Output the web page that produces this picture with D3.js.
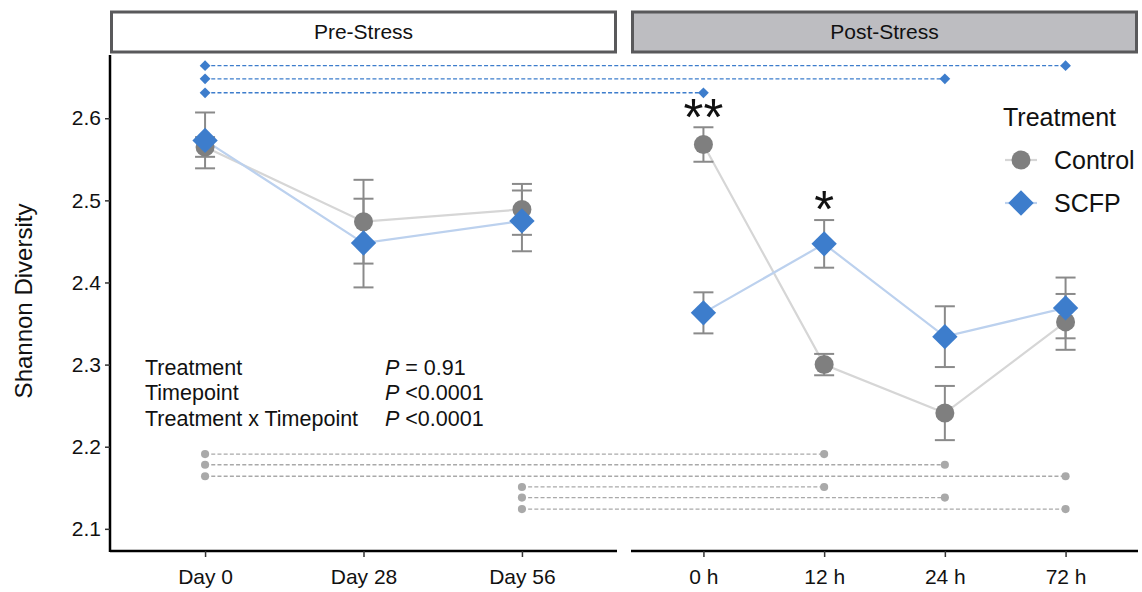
<!DOCTYPE html>
<html>
<head>
<meta charset="utf-8">
<script src="https://cdn.jsdelivr.net/npm/d3@7"></script>
<style>
  body { margin: 0; background: #fff; }
  svg { font-family: "Liberation Sans", Arial, sans-serif; }
</style>
</head>
<body>
<div id="chart"></div>
<script>
// categories per facet
const preDays = ["Day 0", "Day 28", "Day 56"];
const postTimes = ["0 h", "12 h", "24 h", "72 h"];
const timepoints = preDays.concat(postTimes);

// Shannon diversity means and SE, one per timepoint
const controlMean = [2.565, 2.474, 2.489, 2.568, 2.300, 2.241, 2.352];
const controlSE   = [0.012, 0.051, 0.031, 0.021, 0.013, 0.033, 0.034];
const scfpMean    = [2.573, 2.448, 2.475, 2.363, 2.447, 2.334, 2.369];
const scfpSE      = [0.034, 0.054, 0.037, 0.025, 0.029, 0.037, 0.037];

const yTicks = [2.1, 2.2, 2.3, 2.4, 2.5, 2.6];

// pairwise comparison brackets (from, to, y level)
const scfpBrFrom = ["Day 0", "Day 0", "Day 0"];
const scfpBrTo   = ["72 h", "24 h", "0 h"];
const scfpBrY    = [2.664, 2.648, 2.631];
const ctrlBrFrom = ["Day 0", "Day 0", "Day 0", "Day 56", "Day 56", "Day 56"];
const ctrlBrTo   = ["12 h", "24 h", "72 h", "12 h", "24 h", "72 h"];
const ctrlBrY    = [2.191, 2.178, 2.164, 2.151, 2.138, 2.124];

// significance stars (baseline level)
const starAt = ["0 h", "12 h"];
const starText = ["**", "*"];
const starY = [2.579, 2.468];

const statsLabels = ["Treatment", "Timepoint", "Treatment x Timepoint"];
const statsValues = [" = 0.91", " <0.0001", " <0.0001"];

const W = 1142, H = 592;
const panelTop = 55, panelBottom = 551;
const pre = { x0: 110, x1: 617 };
const post = { x0: 631, x1: 1138 };

const ctrlColor = "#7f7f7f", ctrlLine = "#d6d6d6";
const scfpColor = "#3d7dcc", scfpLine = "#bcd1ee";
const errColor = "#8a8a8a";

const svg = d3.select("#chart").append("svg")
  .attr("width", W).attr("height", H);

const xPre = d3.scalePoint().domain(preDays).range([pre.x0, pre.x1]).padding(0.6);
const xPost = d3.scalePoint().domain(postTimes).range([post.x0, post.x1]).padding(0.6);
const xPos = t => preDays.includes(t) ? xPre(t) : xPost(t);

const y = d3.scaleLinear().domain([2.073, 2.677]).range([panelBottom, panelTop]);

// facet strips
const strips = [
  { name: "Pre-Stress", p: pre, fill: "#ffffff" },
  { name: "Post-Stress", p: post, fill: "#bdbdc1" }
];
strips.forEach(s => {
  svg.append("rect")
    .attr("x", s.p.x0 + 1.5).attr("y", 12)
    .attr("width", s.p.x1 - s.p.x0 - 3).attr("height", 40)
    .attr("fill", s.fill).attr("stroke", "#59595b").attr("stroke-width", 3);
  svg.append("text")
    .attr("x", (s.p.x0 + s.p.x1) / 2).attr("y", 32)
    .attr("dy", "0.35em").attr("text-anchor", "middle")
    .attr("font-size", 21).attr("fill", "#111")
    .text(s.name);
});

// axes
const yAxis = svg.append("g")
  .attr("transform", `translate(${pre.x0},0)`)
  .call(d3.axisLeft(y).tickValues(yTicks).tickFormat(d3.format(".1f")).tickSize(5).tickPadding(4));
yAxis.select(".domain").attr("d", `M0,${panelTop}V${panelBottom + 1}`).attr("stroke-width", 2.5);

[[xPre, pre], [xPost, post]].forEach(([sc, p]) => {
  const g = svg.append("g")
    .attr("transform", `translate(0,${panelBottom})`)
    .call(d3.axisBottom(sc).tickSize(6).tickPadding(12));
  g.select(".domain").attr("d", `M${p.x0},0H${p.x1}`).attr("stroke-width", 2.5);
});
svg.selectAll(".tick text").attr("font-size", 21).attr("fill", "#111");
svg.selectAll(".tick line").attr("stroke", "#333").attr("stroke-width", 1.5);

svg.append("text")
  .attr("transform", `translate(24,${(panelTop + panelBottom) / 2 - 2}) rotate(-90)`)
  .attr("text-anchor", "middle").attr("dy", "0.35em")
  .attr("font-size", 24).attr("fill", "#111")
  .text("Shannon Diversity");

// comparison brackets
function brackets(from, to, lv, color, shape, size) {
  const g = svg.append("g");
  from.forEach((f, i) => {
    const yy = y(lv[i]);
    g.append("line")
      .attr("x1", xPos(f)).attr("x2", xPos(to[i]))
      .attr("y1", yy).attr("y2", yy)
      .attr("stroke", color).attr("stroke-width", 1.3)
      .attr("stroke-dasharray", "4,2.2");
    [f, to[i]].forEach(t => {
      g.append("path")
        .attr("transform", `translate(${xPos(t)},${yy})`)
        .attr("d", d3.symbol().type(shape).size(size)())
        .attr("fill", color);
    });
  });
}
brackets(scfpBrFrom, scfpBrTo, scfpBrY, scfpColor, d3.symbolDiamond2, 74);
brackets(ctrlBrFrom, ctrlBrTo, ctrlBrY, "#a9a9a9", d3.symbolCircle, 52);

// series
const series = [
  { name: "Control", mean: controlMean, se: controlSE, color: ctrlColor, line: ctrlLine },
  { name: "SCFP", mean: scfpMean, se: scfpSE, color: scfpColor, line: scfpLine }
];
const rows = s => timepoints.map((t, i) => ({ t, m: s.mean[i], e: s.se[i] }));

const line = d3.line().x(d => xPos(d.t)).y(d => y(d.m));
series.forEach(s => {
  const r = rows(s);
  [preDays, postTimes].forEach(grp => {
    svg.append("path")
      .datum(r.filter(d => grp.includes(d.t)))
      .attr("d", line).attr("fill", "none")
      .attr("stroke", s.line).attr("stroke-width", 2.2);
  });
});

series.forEach(s => {
  const g = svg.append("g").attr("stroke", errColor).attr("stroke-width", 2);
  rows(s).forEach(d => {
    const x = xPos(d.t);
    g.append("line").attr("x1", x).attr("x2", x).attr("y1", y(d.m - d.e)).attr("y2", y(d.m + d.e));
    [d.m - d.e, d.m + d.e].forEach(v => {
      g.append("line").attr("x1", x - 10).attr("x2", x + 10).attr("y1", y(v)).attr("y2", y(v));
    });
  });
});

svg.append("g").selectAll("circle")
  .data(rows(series[0])).join("circle")
  .attr("cx", d => xPos(d.t)).attr("cy", d => y(d.m)).attr("r", 9.5)
  .attr("fill", ctrlColor);

const diamond = d3.symbol().type(d3.symbolDiamond2).size(410);
svg.append("g").selectAll("path")
  .data(rows(series[1])).join("path")
  .attr("transform", d => `translate(${xPos(d.t)},${y(d.m)})`)
  .attr("d", diamond).attr("fill", scfpColor);

// stars
starAt.forEach((t, i) => {
  svg.append("text")
    .attr("x", xPos(t)).attr("y", y(starY[i]))
    .attr("text-anchor", "middle")
    .attr("font-size", 51).attr("fill", "#111")
    .text(starText[i]);
});

// stats text
statsLabels.forEach((l, i) => {
  const ty = 367 + i * 25.5;
  svg.append("text").attr("x", 145).attr("y", ty).attr("dy", "0.35em")
    .attr("font-size", 21.5).attr("fill", "#111").text(l);
  const t = svg.append("text").attr("x", 385).attr("y", ty).attr("dy", "0.35em")
    .attr("font-size", 21.5).attr("fill", "#111");
  t.append("tspan").attr("font-style", "italic").text("P");
  t.append("tspan").text(statsValues[i]);
});

// legend
const lg = svg.append("g").attr("transform", "translate(1003,117)");
lg.append("text").attr("x", 0).attr("y", 0).attr("dy", "0.35em")
  .attr("font-size", 25).attr("fill", "#111").text("Treatment");
series.forEach((s, i) => {
  const ly = 43 + i * 43;
  lg.append("line").attr("x1", 2).attr("x2", 34).attr("y1", ly).attr("y2", ly)
    .attr("stroke", s.line).attr("stroke-width", 2.2);
  if (i === 0) {
    lg.append("circle").attr("cx", 18).attr("cy", ly).attr("r", 9.5).attr("fill", s.color);
  } else {
    lg.append("path").attr("transform", `translate(18,${ly})`).attr("d", diamond).attr("fill", s.color);
  }
  lg.append("text").attr("x", 51).attr("y", ly).attr("dy", "0.35em")
    .attr("font-size", 25).attr("fill", "#111").text(s.name);
});
</script>
</body>
</html>
